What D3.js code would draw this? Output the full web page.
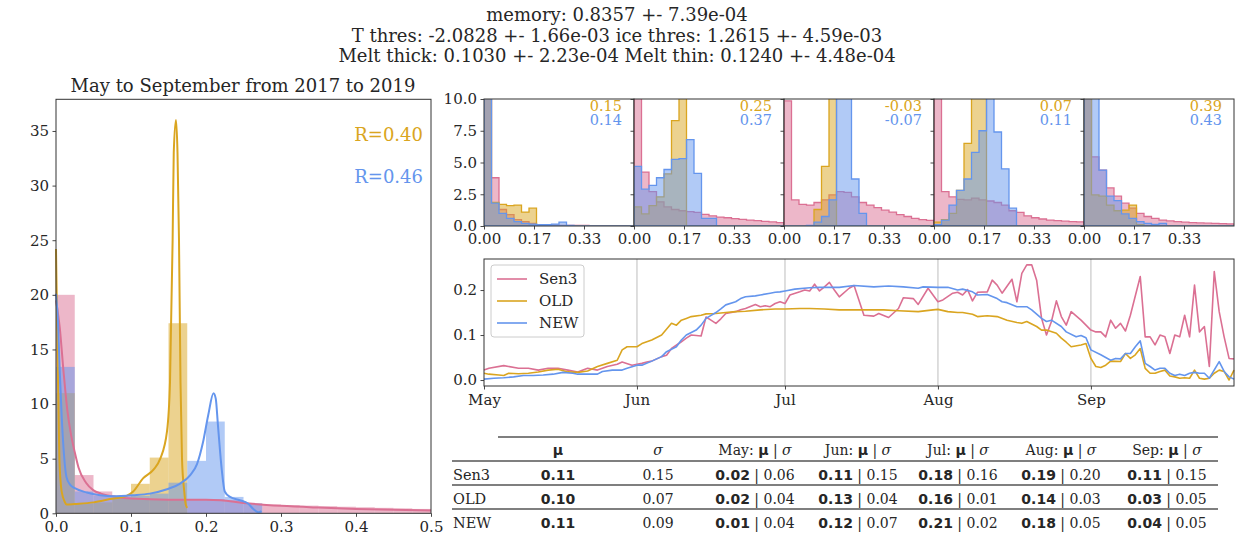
<!DOCTYPE html>
<html>
<head>
<meta charset="utf-8">
<script src="https://cdn.jsdelivr.net/npm/d3@7"></script>
<style>
  body { margin: 0; background: #fff; }
  text { font-family: "DejaVu Serif", serif; fill: #262626; }
</style>
</head>
<body>
<svg id="fig" width="1235" height="537"></svg>
<script>
// ---- data ----
var titleLines = [
  "memory: 0.8357 +- 7.39e-04",
  "T thres: -2.0828 +- 1.66e-03 ice thres: 1.2615 +- 4.59e-03",
  "Melt thick: 0.1030 +- 2.23e-04 Melt thin: 0.1240 +- 4.48e-04"
];
var seriesNames = ["Sen3", "OLD", "NEW"];
var seriesColors = ["#db7093", "#daa520", "#6495ed"];
var binW = 0.025;

// left panel: density histograms (bins of 0.025 from 0)
var histSen3 = [20, 3.5, 2.0, 1.65, 1.4, 1.3, 1.3, 1.3, 1.3, 1.2, 0.9, 0.8, 0.75, 0.7, 0.65, 0.6, 0.55, 0.5, 0.45, 0.4];
var histOld  = [11, 0.9, 1.0, 1.4, 2.7, 5.1, 17.4];
var histNew  = [13.4, 2.0, 1.6, 1.5, 1.6, 1.8, 2.8, 4.8, 8.4, 1.5, 0.9];
// left panel: kde curves [x, density]
var kdeSen3 = [[0,19.5],[0.005,17],[0.01,13],[0.015,9.5],[0.02,7.2],[0.025,5.6],[0.03,4.2],[0.04,2.8],[0.05,2.1],[0.06,1.8],[0.08,1.5],[0.1,1.35],[0.15,1.25],[0.2,1.25],[0.22,1.2],[0.25,0.95],[0.3,0.68],[0.35,0.52],[0.4,0.4],[0.45,0.32],[0.5,0.26]];
var kdeOld  = [[0,24.2],[0.002,15],[0.0045,5],[0.0075,2],[0.012,1.0],[0.014,0.8],[0.025,0.85],[0.05,1.0],[0.072,1.3],[0.094,1.6],[0.103,2.0],[0.116,3.2],[0.13,4.0],[0.139,5.0],[0.148,7.5],[0.152,12],[0.1555,25],[0.157,33],[0.16,36],[0.162,33],[0.164,25],[0.166,12],[0.168,5],[0.171,2],[0.173,0.8],[0.175,0.5]];
var kdeNew  = [[0,20.1],[0.003,17],[0.005,13],[0.0075,9],[0.01,6],[0.014,3.3],[0.019,2.6],[0.025,2.3],[0.041,1.9],[0.059,1.65],[0.076,1.55],[0.103,1.65],[0.125,1.8],[0.148,2.2],[0.165,2.7],[0.179,3.5],[0.188,4.5],[0.196,6.5],[0.203,9],[0.21,11],[0.213,10.5],[0.216,8],[0.221,4],[0.225,2],[0.232,1.5],[0.245,1.2],[0.256,0.9],[0.263,0.4],[0.27,0.1],[0.274,0.2]];
var rOverall = [0.40, 0.46];

// monthly histograms (bins of 0.025)
var months = ["May", "Jun", "Jul", "Aug", "Sep"];
var monthHistSen3 = [
  [14, 3.8, 1.3, 0.9, 0.5, 0.35, 0.2, 0.1, 0.08, 0.06, 0.05, 0.05, 0.04, 0.04, 0.03, 0.03, 0.02, 0.02, 0.02, 0.01],
  [15, 4.25, 2.7, 1.9, 1.5, 1.3, 1.2, 1.13, 1.08, 0.92, 0.8, 0.7, 0.65, 0.58, 0.52, 0.47, 0.42, 0.37, 0.32, 0.27],
  [9.85, 2.05, 1.7, 1.65, 1.85, 2.05, 2.45, 2.7, 2.65, 2.3, 1.85, 1.65, 1.45, 1.25, 1.1, 0.9, 0.75, 0.6, 0.5, 0.45],
  [15, 2.7, 2.3, 2.1, 2.05, 2.2, 2.05, 1.97, 1.85, 1.65, 1.2, 1.07, 0.8, 0.65, 0.55, 0.47, 0.42, 0.38, 0.35, 0.33],
  [20, 5.45, 4.4, 3.0, 2.35, 1.8, 1.4, 1.0, 0.75, 0.6, 0.47, 0.4, 0.35, 0.3, 0.27, 0.24, 0.22, 0.2, 0.18, 0.16]
];
var monthHistOld = [
  [25, 1.85, 1.7, 1.6, 1.65, 1.1, 1.4, 0, 0, 0, 0, 0, 0, 0, 0, 0, 0, 0, 0, 0],
  [1.5, 0.95, 1.6, 2.3, 4.1, 8.3, 20, 0, 0, 0, 0, 0, 0, 0, 0, 0, 0, 0, 0, 0],
  [0, 0, 0, 0, 1.3, 4.7, 20, 0, 0, 0, 0, 0, 0, 0, 0, 0, 0, 0, 0, 0],
  [0.3, 0.5, 1.0, 2.8, 6.5, 20, 20, 0, 0, 0, 0, 0, 0, 0, 0, 0, 0, 0, 0, 0],
  [20, 2.45, 2.35, 1.65, 1.2, 1.25, 1.65, 0.1, 0, 0, 0, 0, 0, 0, 0, 0, 0, 0, 0, 0]
];
var monthHistNew = [
  [28, 1.8, 1.0, 0.6, 0.35, 0.2, 0.15, 0.1, 0.1, 0.15, 0.3, 0.05, 0, 0, 0, 0, 0, 0, 0, 0],
  [4.7, 2.9, 3.2, 3.8, 4.45, 5.25, 5.3, 6.8, 4.15, 0.6, 0.6, 0, 0, 0, 0, 0, 0, 0, 0, 0],
  [0, 0, 0, 0.05, 0.3, 0.75, 2.05, 20, 20, 3.7, 1.0, 0, 0, 0, 0, 0, 0, 0, 0, 0],
  [0.1, 0.47, 1.65, 2.8, 3.7, 5.8, 7.5, 20, 7.4, 4.5, 1.4, 0, 0, 0, 0, 0, 0, 0, 0, 0],
  [20, 20, 4.4, 2.35, 2.0, 0.95, 0.6, 0.35, 0.2, 0.13, 0.2, 0, 0, 0, 0, 0, 0, 0, 0, 0]
];
var monthROld = [0.15, 0.25, -0.03, 0.07, 0.39];
var monthRNew = [0.14, 0.37, -0.07, 0.11, 0.43];

// daily series, [day since 1 May, value]
var tsSen3 = [[0,0.022],[1,0.026],[4,0.032],[7,0.026],[9,0.026],[11,0.022],[13,0.026],[15,0.026],[17,0.022],[19,0.018],[21,0.026],[23,0.022],[25,0.03],[27,0.035],[28,0.04],[30,0.033],[31,0.035],[32,0.037],[33,0.04],[34,0.042],[36,0.052],[37,0.055],[38,0.07],[40,0.085],[41,0.093],[42,0.1],[44,0.098],[45,0.14],[46,0.133],[47,0.126],[48,0.136],[49,0.148],[51,0.152],[52,0.156],[53,0.159],[55,0.168],[56,0.163],[57,0.165],[58,0.163],[59,0.17],[60,0.174],[61,0.17],[62,0.189],[64,0.196],[65,0.2],[66,0.198],[67,0.213],[68,0.198],[69,0.207],[70,0.217],[71,0.2],[72,0.185],[74,0.204],[75,0.21],[77,0.144],[79,0.142],[80,0.148],[82,0.139],[84,0.159],[85,0.183],[87,0.181],[88,0.168],[90,0.204],[92,0.174],[93,0.178],[95,0.193],[96,0.195],[97,0.189],[98,0.201],[99,0.176],[100,0.195],[102,0.196],[103,0.222],[104,0.211],[105,0.193],[107,0.224],[108,0.174],[109,0.237],[110,0.256],[111,0.256],[112,0.222],[113,0.137],[114,0.1],[115,0.13],[116,0.176],[117,0.141],[118,0.122],[119,0.152],[121,0.133],[122,0.122],[123,0.111],[124,0.107],[125,0.107],[126,0.096],[127,0.133],[128,0.115],[129,0.126],[130,0.109],[131,0.144],[133,0.23],[134,0.096],[135,0.096],[136,0.078],[137,0.1],[138,0.096],[139,0.059],[140,0.1],[141,0.096],[142,0.144],[143,0.096],[144,0.211],[145,0.107],[146,0.119],[147,0.03],[148,0.241],[149,0.152],[150,0.096],[151,0.048],[152,0.047]];
var tsOld = [[0,0.015],[1,0.013],[3,0.011],[4,0.01],[5,0.015],[7,0.014],[9,0.015],[11,0.018],[13,0.022],[15,0.024],[17,0.018],[19,0.017],[21,0.02],[23,0.03],[25,0.037],[27,0.044],[28,0.067],[29,0.074],[31,0.074],[32,0.081],[34,0.089],[36,0.1],[38,0.126],[39,0.122],[40,0.133],[41,0.137],[42,0.141],[44,0.144],[45,0.147],[47,0.148],[49,0.15],[51,0.152],[53,0.153],[56,0.156],[59,0.158],[61,0.158],[64,0.159],[66,0.159],[69,0.158],[72,0.156],[74,0.156],[77,0.156],[81,0.156],[84,0.154],[88,0.152],[91,0.156],[92,0.157],[94,0.152],[96,0.15],[97,0.15],[99,0.146],[100,0.141],[102,0.143],[104,0.141],[106,0.133],[108,0.128],[109,0.126],[110,0.13],[112,0.119],[113,0.111],[114,0.111],[116,0.104],[117,0.093],[118,0.084],[119,0.074],[121,0.078],[122,0.081],[123,0.048],[124,0.03],[125,0.028],[126,0.033],[127,0.042],[129,0.041],[130,0.059],[131,0.048],[132,0.056],[133,0.07],[134,0.026],[135,0.015],[136,0.015],[137,0.019],[138,0.022],[139,0.009],[140,0.007],[141,0.004],[142,0.005],[143,0.004],[144,0.022],[145,0.004],[146,0.002],[147,0.004],[148,0.015],[149,0.022],[150,0.019],[151,0.0],[152,0.022]];
var tsNew = [[0,0.002],[2,0.004],[4,0.005],[6,0.007],[8,0.01],[10,0.01],[12,0.011],[14,0.013],[16,0.017],[18,0.015],[19,0.013],[21,0.013],[23,0.013],[24,0.019],[26,0.022],[28,0.022],[29,0.026],[31,0.033],[32,0.033],[34,0.042],[36,0.052],[37,0.063],[39,0.074],[40,0.089],[41,0.1],[43,0.111],[44,0.122],[45,0.137],[47,0.15],[48,0.158],[49,0.167],[51,0.174],[52,0.181],[53,0.185],[55,0.187],[56,0.189],[58,0.193],[59,0.195],[60,0.196],[61,0.198],[63,0.202],[66,0.205],[68,0.206],[71,0.206],[72,0.206],[75,0.21],[79,0.207],[82,0.209],[85,0.207],[88,0.204],[89,0.207],[92,0.206],[94,0.206],[96,0.2],[97,0.202],[99,0.196],[100,0.189],[102,0.19],[104,0.181],[105,0.174],[106,0.172],[108,0.163],[110,0.163],[111,0.156],[113,0.137],[114,0.13],[115,0.133],[117,0.119],[118,0.107],[120,0.096],[121,0.099],[122,0.094],[123,0.067],[125,0.056],[127,0.044],[128,0.048],[129,0.047],[130,0.059],[131,0.059],[132,0.074],[133,0.087],[134,0.037],[135,0.03],[136,0.022],[137,0.026],[138,0.026],[139,0.015],[140,0.01],[141,0.013],[142,0.01],[143,0.015],[144,0.017],[145,0.015],[146,0.015],[147,0.004],[149,0.041],[150,0.019],[151,0.007],[152,0.002]];

// table
var overallMu = [0.11, 0.10, 0.11];
var overallSd = [0.15, 0.07, 0.09];
var monthMu = [[0.02, 0.11, 0.18, 0.19, 0.11], [0.02, 0.13, 0.16, 0.14, 0.03], [0.01, 0.12, 0.21, 0.18, 0.04]];
var monthSd = [[0.06, 0.15, 0.16, 0.20, 0.15], [0.04, 0.04, 0.01, 0.03, 0.05], [0.04, 0.07, 0.02, 0.05, 0.05]];

// ---- drawing ----
var svg = d3.select("#fig");
var axisColor = "#333";
var tickFont = 15;

function styleAxis(g) {
  g.select(".domain").remove();
  g.selectAll(".tick line").attr("stroke", axisColor).attr("stroke-width", 0.9);
  g.selectAll(".tick text").attr("font-family", "DejaVu Serif").attr("font-size", tickFont).attr("fill", "#262626");
}

// main title
svg.selectAll("text.suptitle")
  .data(titleLines)
  .enter().append("text")
  .attr("class", "suptitle")
  .attr("x", 617).attr("y", function(d, i){ return 21 + i * 20.5; })
  .attr("text-anchor", "middle")
  .attr("font-size", 18)
  .text(function(d){ return d; });

// ----- left panel -----
var xL = d3.scaleLinear().domain([0, 0.5]).range([56, 431]);
var yL = d3.scaleLinear().domain([0, 37.9]).range([513.3, 99.3]);
var left = svg.append("g");

[histSen3, histOld, histNew].forEach(function(h, s) {
  left.append("g").selectAll("rect")
    .data(h)
    .enter().append("rect")
    .attr("x", function(d, i){ return xL(i * binW); })
    .attr("width", xL(binW) - xL(0))
    .attr("y", function(d){ return yL(d); })
    .attr("height", function(d){ return yL(0) - yL(d); })
    .attr("fill", seriesColors[s])
    .attr("fill-opacity", 0.5);
});

var kdeLine = d3.line()
  .x(function(d){ return xL(d[0]); })
  .y(function(d){ return yL(d[1]); })
  .curve(d3.curveMonotoneX);
[kdeSen3, kdeOld, kdeNew].forEach(function(k, s) {
  left.append("path")
    .attr("d", kdeLine(k))
    .attr("fill", "none")
    .attr("stroke", seriesColors[s])
    .attr("stroke-width", 2);
});

left.append("g").attr("transform", "translate(0,513.3)")
  .call(d3.axisBottom(xL).tickValues([0, 0.1, 0.2, 0.3, 0.4, 0.5]).tickFormat(d3.format(".1f")).tickSize(3.5).tickPadding(4.5))
  .call(styleAxis);
left.append("g").attr("transform", "translate(56,0)")
  .call(d3.axisLeft(yL).tickValues(d3.range(0, 36, 5)).tickSize(3.5).tickPadding(3.5))
  .call(styleAxis);
left.append("rect")
  .attr("x", 56).attr("y", 99.3).attr("width", 375).attr("height", 414)
  .attr("fill", "none").attr("stroke", axisColor).attr("stroke-width", 1);
left.append("text")
  .attr("x", 243).attr("y", 92).attr("text-anchor", "middle").attr("font-size", 18)
  .text("May to September from 2017 to 2019");
rOverall.forEach(function(r, i) {
  left.append("text")
    .attr("x", 423).attr("y", 141 + i * 42)
    .attr("text-anchor", "end").attr("font-size", 18)
    .style("fill", seriesColors[i + 1])
    .text("R=" + r.toFixed(2));
});

// ----- monthly small multiples -----
var yM = d3.scaleLinear().domain([0, 10]).range([226, 99]);
months.forEach(function(m, p) {
  var x0 = 484 + p * 150;
  var xM = d3.scaleLinear().domain([0, 0.5]).range([x0, x0 + 150]);
  var g = svg.append("g");
  var clipId = "clip" + p;
  g.append("clipPath").attr("id", clipId)
    .append("rect").attr("x", x0).attr("y", 99).attr("width", 150).attr("height", 127);
  var area = d3.area()
    .x(function(d){ return xM(d[0]); })
    .y0(yM(0))
    .y1(function(d){ return yM(d[1]); })
    .curve(d3.curveStepAfter);
  var inner = g.append("g").attr("clip-path", "url(#" + clipId + ")");
  [monthHistSen3[p], monthHistOld[p], monthHistNew[p]].forEach(function(h, s) {
    var pts = h.map(function(v, i){ return [i * binW, v]; });
    pts.push([h.length * binW, h[h.length - 1]]);
    inner.append("path")
      .attr("d", area(pts))
      .attr("fill", seriesColors[s]).attr("fill-opacity", 0.5)
      .attr("stroke", seriesColors[s]).attr("stroke-width", 1.3);
  });
  g.append("g").attr("transform", "translate(0,226)")
    .call(d3.axisBottom(xM).tickValues([0, 1/6, 1/3]).tickFormat(d3.format(".2f")).tickSize(3.5).tickPadding(4))
    .call(styleAxis);
  var ya = d3.axisLeft(yM).tickValues([0, 2.5, 5, 7.5, 10]).tickSize(3.5).tickPadding(3.5)
    .tickFormat(p === 0 ? d3.format(".1f") : function(){ return ""; });
  g.append("g").attr("transform", "translate(" + x0 + ",0)").call(ya).call(styleAxis);
  g.append("rect")
    .attr("x", x0).attr("y", 99).attr("width", 150).attr("height", 127)
    .attr("fill", "none").attr("stroke", axisColor).attr("stroke-width", 1);
  g.append("text").attr("x", x0 + 138).attr("y", 111).attr("text-anchor", "end").attr("font-size", 14.5)
    .style("fill", seriesColors[1]).text(monthROld[p].toFixed(2));
  g.append("text").attr("x", x0 + 138).attr("y", 125).attr("text-anchor", "end").attr("font-size", 14.5)
    .style("fill", seriesColors[2]).text(monthRNew[p].toFixed(2));
});

// ----- time series -----
var start = new Date(Date.UTC(2019, 4, 1));
var xT = d3.scaleUtc().domain([start, d3.utcDay.offset(start, 152)]).range([484, 1234]);
var yT = d3.scaleLinear().domain([-0.0133, 0.269]).range([386, 259]);
var ts = svg.append("g");
var monthStarts = d3.utcMonth.range(start, d3.utcDay.offset(start, 153));
ts.selectAll("line.grid")
  .data(monthStarts.slice(1))
  .enter().append("line")
  .attr("x1", function(d){ return xT(d); }).attr("x2", function(d){ return xT(d); })
  .attr("y1", 259).attr("y2", 386)
  .attr("stroke", "#c8c8c8").attr("stroke-width", 1.2);
var tsLine = d3.line()
  .x(function(d){ return xT(d3.utcDay.offset(start, d[0])); })
  .y(function(d){ return yT(d[1]); });
[tsSen3, tsOld, tsNew].forEach(function(t, s) {
  ts.append("path")
    .attr("d", tsLine(t))
    .attr("fill", "none")
    .attr("stroke", seriesColors[s])
    .attr("stroke-width", 1.6)
    .attr("stroke-linejoin", "round");
});
ts.append("g").attr("transform", "translate(0,386)")
  .call(d3.axisBottom(xT).tickValues(monthStarts).tickFormat(d3.utcFormat("%b")).tickSize(3.5).tickPadding(4.5))
  .call(styleAxis);
ts.append("g").attr("transform", "translate(484,0)")
  .call(d3.axisLeft(yT).tickValues([0, 0.1, 0.2]).tickFormat(d3.format(".1f")).tickSize(3.5).tickPadding(3.5))
  .call(styleAxis);
ts.append("rect")
  .attr("x", 484).attr("y", 259).attr("width", 750).attr("height", 127)
  .attr("fill", "none").attr("stroke", axisColor).attr("stroke-width", 1);

// legend
var leg = ts.append("g");
leg.append("rect").attr("x", 491).attr("y", 265).attr("width", 93).attr("height", 72)
  .attr("rx", 3).attr("fill", "#fff").attr("fill-opacity", 0.8).attr("stroke", "#ccc");
seriesNames.forEach(function(n, i) {
  var yy = 279 + i * 22;
  leg.append("line").attr("x1", 497).attr("x2", 527).attr("y1", yy).attr("y2", yy)
    .attr("stroke", seriesColors[i]).attr("stroke-width", 1.6);
  leg.append("text").attr("x", 539).attr("y", yy + 5).attr("font-size", 15).text(n);
});

// ----- table -----
var tab = svg.append("g");
var colX = [558, 658, 755, 858, 958, 1061, 1167];
var rowY = [480, 504, 528];
var ruleColor = "#555";
tab.append("line").attr("x1", 498).attr("x2", 1218).attr("y1", 437).attr("y2", 437).attr("stroke", ruleColor).attr("stroke-width", 1.5);
[461, 485, 509].forEach(function(yy) {
  tab.append("line").attr("x1", 452).attr("x2", 1218).attr("y1", yy).attr("y2", yy).attr("stroke", ruleColor).attr("stroke-width", 1.5);
});

function headerCell(x, label) {
  var t = tab.append("text").attr("x", x).attr("y", 455).attr("text-anchor", "middle").attr("font-size", 14);
  if (label) t.append("tspan").text(label + ": ");
  t.append("tspan").style("font-family", "DejaVu Sans").attr("font-weight", "bold").text("μ");
  if (label) {
    t.append("tspan").text(" | ");
    t.append("tspan").attr("font-style", "italic").text("σ");
  }
}
headerCell(colX[0], null);
tab.append("text").attr("x", colX[1]).attr("y", 455).attr("text-anchor", "middle").attr("font-size", 14)
  .attr("font-style", "italic").text("σ");
months.forEach(function(m, i){ headerCell(colX[i + 2], m); });

seriesNames.forEach(function(n, r) {
  var yy = rowY[r];
  tab.append("text").attr("x", 453).attr("y", yy).attr("font-size", 14.5).text(n);
  tab.append("text").attr("x", colX[0]).attr("y", yy).attr("text-anchor", "middle").attr("font-size", 14)
    .attr("font-weight", "bold").style("font-family", "DejaVu Sans")
    .text(overallMu[r].toFixed(2));
  tab.append("text").attr("x", colX[1]).attr("y", yy).attr("text-anchor", "middle").attr("font-size", 14)
    .text(overallSd[r].toFixed(2));
  monthMu[r].forEach(function(mu, j) {
    var t = tab.append("text").attr("x", colX[j + 2]).attr("y", yy).attr("text-anchor", "middle").attr("font-size", 14);
    t.append("tspan").style("font-family", "DejaVu Sans").attr("font-weight", "bold").text(mu.toFixed(2));
    t.append("tspan").text(" | " + monthSd[r][j].toFixed(2));
  });
});
</script>
</body>
</html>
